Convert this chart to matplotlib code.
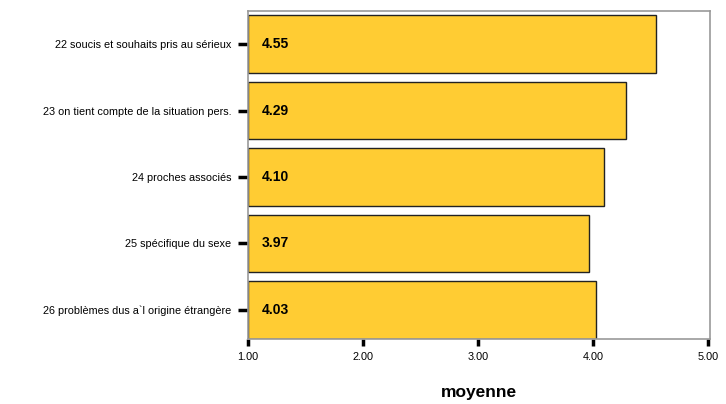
import numpy as np
import matplotlib.pyplot as plt

plt.rcParams['font.family'] = ['Liberation Sans', 'DejaVu Sans']

categories = [
    "22 soucis et souhaits pris au sérieux",
    "23 on tient compte de la situation pers.",
    "24 proches associés",
    "25 spécifique du sexe",
    "26 problèmes dus a`l origine étrangère",
]
means = [4.55, 4.29, 4.10, 3.97, 4.03]
xticks = [1.0, 2.0, 3.0, 4.0, 5.0]

fig = plt.figure(figsize=(7.26, 4.04), dpi=100)
ax = fig.add_axes([248 / 726, 1 - 339 / 404, 462 / 726, 328 / 404])

y = np.arange(len(categories))
base = 1.0
ax.barh(y, np.array(means) - base, left=base, height=0.87,
        color='#FFCC33', edgecolor='#222222', linewidth=1.0)

for yi, m in zip(y, means):
    ax.text(base + 0.12, yi, f"{m:.2f}", va='center', ha='left',
            fontsize=10, fontweight='bold', color='black')

ax.set_xlim(1.0, 5.02)
ax.set_ylim(4.44, -0.5)
ax.set_yticks(y)
ax.set_yticklabels(categories, fontsize=7.8)
ax.set_xticks(xticks)
ax.set_xticklabels([f"{t:.2f}" for t in xticks], fontsize=7.8)
ax.tick_params(axis='y', length=7, width=2.5, color='black', direction='out', pad=5)
ax.tick_params(axis='x', length=5, width=2.5, color='black', direction='out', pad=4)

for s in ['top', 'right', 'bottom', 'left']:
    ax.spines[s].set_color('#999999')
    ax.spines[s].set_linewidth(1.2)

# x axis title placed in figure pixels to match the reference
fig.text(479 / 726, 1 - 393 / 404, 'moyenne', ha='center', va='center',
         fontsize=12.5, fontweight='bold')

fig.savefig('out.png', dpi=100)
